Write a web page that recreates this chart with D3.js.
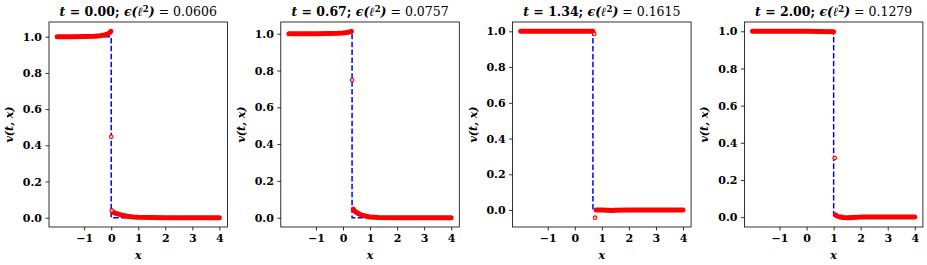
<!DOCTYPE html>
<html>
<head>
<meta charset="utf-8">
<script src="https://cdn.jsdelivr.net/npm/d3@7"></script>
<style>
  body { margin: 0; background: #fff; }
  svg { display: block; }
  text { font-family: "DejaVu Serif", serif; }
</style>
</head>
<body>
<div id="chart"></div>
<script>
// panel labels
var times = ["0.00", "0.67", "1.34", "2.00"];
var errors = ["0.0606", "0.0757", "0.1615", "0.1279"];

// exact shock position per panel
var shocks = [0, 0.335, 0.67, 1.0];
var xStart = -2, xEnd = 4;

var xTicks = [-1, 0, 1, 2, 3, 4];
var yTicks = [0, 0.2, 0.4, 0.6, 0.8, 1.0];

// numerical solution: upper plateau, lower plateau, isolated samples
var hiX0 = [-2, -1.5, -1, -0.6, -0.4, -0.25, -0.15, -0.08, -0.04, -0.01];
var hiY0 = [1.0, 1.0, 1.001, 1.003, 1.006, 1.01, 1.014, 1.019, 1.024, 1.03];
var outX0 = [0.0, 0.02];
var outY0 = [0.447, 0.04];
var loX0 = [0.05, 0.1, 0.2, 0.3, 0.4, 0.5, 0.6, 0.8, 1.0, 1.5, 2, 3, 4];
var loY0 = [0.032, 0.028, 0.022, 0.018, 0.014, 0.011, 0.008, 0.004, 0.002, 0.0005, 0, 0, 0];

var hiX1 = [-2, -1, -0.5, -0.2, 0, 0.15, 0.25, 0.31];
var hiY1 = [1.0, 1.0, 1.001, 1.002, 1.004, 1.007, 1.01, 1.013];
var outX1 = [0.34];
var outY1 = [0.748];
var loX1 = [0.38, 0.42, 0.5, 0.6, 0.7, 0.85, 1.0, 1.3, 2, 3, 4];
var loY1 = [0.046, 0.038, 0.028, 0.02, 0.014, 0.008, 0.004, 0.001, 0, 0, 0];

var hiX2 = [-2, -1, 0, 0.5, 0.67];
var hiY2 = [1.0, 1.0, 1.0, 1.0, 1.0];
var outX2 = [0.72, 0.75];
var outY2 = [0.985, -0.043];
var loX2 = [0.79, 1.0, 1.2, 1.35, 1.5, 2, 3, 4];
var loY2 = [0.0, 0.0, -0.002, -0.003, -0.001, 0, 0, 0];

var hiX3 = [-2, -1, 0, 0.5, 1.0];
var hiY3 = [1.0, 1.0, 1.0, 0.999, 0.998];
var outX3 = [1.04];
var outY3 = [0.318];
var loX3 = [1.07, 1.12, 1.2, 1.35, 1.5, 1.7, 2, 3, 4];
var loY3 = [0.012, 0.006, 0.002, -0.002, -0.003, -0.002, 0, 0, 0];

var panels = [
  {hiX: hiX0, hiY: hiY0, outX: outX0, outY: outY0, loX: loX0, loY: loY0},
  {hiX: hiX1, hiY: hiY1, outX: outX1, outY: outY1, loX: loX1, loY: loY1},
  {hiX: hiX2, hiY: hiY2, outX: outX2, outY: outY2, loX: loX2, loY: loY2},
  {hiX: hiX3, hiY: hiY3, outX: outX3, outY: outY3, loX: loX3, loY: loY3}
];

var width = 927, height = 265;
var svg = d3.select("#chart").append("svg")
  .attr("width", width)
  .attr("height", height);

var axLeft = 49, axStep = 231.8, axW = 178.5;
var axTop = 22, axH = 205;

function zip(xs, ys) {
  return xs.map(function (x, i) { return [x, ys[i]]; });
}

panels.forEach(function (p, k) {
  var s = shocks[k];
  var exact = zip([xStart, s, s, xEnd], [1, 1, 0, 0]);
  var hi = zip(p.hiX, p.hiY), lo = zip(p.loX, p.loY), out = zip(p.outX, p.outY);

  var allY = [].concat(p.hiY, p.loY, p.outY, [0, 1]);
  var ymin = d3.min(allY), ymax = d3.max(allY);
  var ypad = (ymax - ymin) * 0.05;
  var xpad = (xEnd - xStart) * 0.05;

  var x = d3.scaleLinear().domain([xStart - xpad, xEnd + xpad]).range([0, axW]);
  var y = d3.scaleLinear().domain([ymin - ypad, ymax + ypad]).range([axH, 0]);

  var g = svg.append("g")
    .attr("transform", "translate(" + (axLeft + k * axStep) + "," + axTop + ")");

  var line = d3.line().x(function (d) { return x(d[0]); }).y(function (d) { return y(d[1]); });

  // exact solution
  g.append("path")
    .attr("d", line(exact))
    .attr("fill", "none")
    .attr("stroke", "#0000ff")
    .attr("stroke-width", 1.5)
    .attr("stroke-dasharray", "5.5,2.4");

  // numerical solution (dense markers form a band)
  [hi, lo].forEach(function (seg) {
    g.append("path")
      .attr("d", line(seg))
      .attr("fill", "none")
      .attr("stroke", "#ff0000")
      .attr("stroke-width", 5)
      .attr("stroke-linecap", "round")
      .attr("stroke-linejoin", "round");
  });

  g.selectAll("circle.out")
    .data(out)
    .enter().append("circle")
    .attr("class", "out")
    .attr("cx", function (d) { return x(d[0]); })
    .attr("cy", function (d) { return y(d[1]); })
    .attr("r", 1.8)
    .attr("fill", "#ffd0d0")
    .attr("stroke", "#ff0000")
    .attr("stroke-width", 1.1);

  // frame
  g.append("rect")
    .attr("x", 0).attr("y", 0)
    .attr("width", axW).attr("height", axH)
    .attr("fill", "none")
    .attr("stroke", "#000")
    .attr("stroke-width", 0.8);

  var xa = g.append("g")
    .attr("transform", "translate(0," + axH + ")")
    .call(d3.axisBottom(x).tickValues(xTicks).tickFormat(d3.format("d"))
      .tickSize(3.5).tickPadding(3.5));
  var ya = g.append("g")
    .call(d3.axisLeft(y).tickValues(yTicks).tickFormat(d3.format(".1f"))
      .tickSize(3.5).tickPadding(3.5));
  [xa, ya].forEach(function (a) {
    a.select(".domain").remove();
    a.selectAll("line").attr("stroke", "#000").attr("stroke-width", 0.8);
    a.selectAll("text")
      .attr("fill", "#000")
      .style("font-family", "DejaVu Serif")
      .style("font-weight", "bold")
      .style("font-size", "11px");
  });

  // axis labels
  g.append("text")
    .attr("x", axW / 2)
    .attr("y", axH + 32)
    .attr("text-anchor", "middle")
    .style("font-size", "11px")
    .style("font-weight", "bold")
    .style("font-style", "italic")
    .text("x");

  g.append("text")
    .attr("transform", "translate(-36," + (axH / 2) + ") rotate(-90)")
    .attr("text-anchor", "middle")
    .style("font-size", "11px")
    .style("font-weight", "bold")
    .style("font-style", "italic")
    .text("v(t, x)");

  // title
  var t = g.append("text")
    .attr("x", axW / 2)
    .attr("y", -6)
    .attr("text-anchor", "middle")
    .style("font-size", "12.5px");
  t.append("tspan").style("font-weight", "bold").style("font-style", "italic").text("t");
  t.append("tspan").style("font-weight", "bold").text(" = " + times[k] + "; ");
  t.append("tspan").style("font-weight", "bold").style("font-style", "italic").text("ϵ(ℓ");
  t.append("tspan").style("font-weight", "bold").style("font-size", "8.5px").attr("dy", -4.5).text("2");
  t.append("tspan").style("font-weight", "bold").style("font-style", "italic").attr("dy", 4.5).text(")");
  t.append("tspan").text(" = " + errors[k]);
});
</script>
</body>
</html>
